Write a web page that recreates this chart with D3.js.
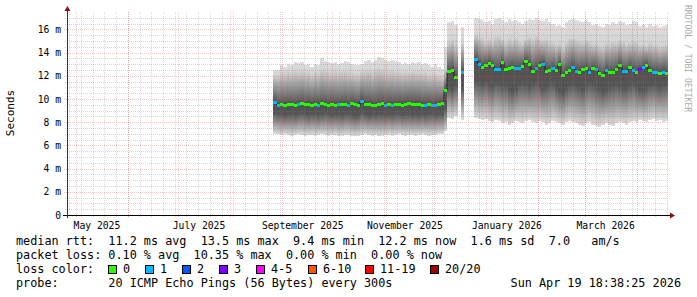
<!DOCTYPE html>
<html>
<head>
<meta charset="utf-8">
<script src="https://cdn.jsdelivr.net/npm/d3@7"></script>
<style>
body { margin:0; background:#fff; }
text { font-family: "DejaVu Sans Mono", monospace; fill:#000; white-space: pre; }
</style>
</head>
<body>
<div class="chart"></div>
<script>
// time range of the graph and the consolidated columns (2 days each)
const startTime = Date.UTC(2025, 3, 25, 15)
const endTime = Date.UTC(2026, 3, 19, 18, 38, 25)
const firstColumn = Date.UTC(2025, 7, 27)
const columnDays = 2

// median rtt per column, ms (null = no data)
const median = [
  9.75,9.50,9.55,9.50,9.55,9.60,9.50,9.58,9.65,9.55,
  9.60,9.50,9.60,9.52,9.62,9.58,9.52,9.60,9.50,9.55,
  9.55,9.60,9.50,9.62,9.55,9.50,9.85,9.58,9.55,9.50,
  9.48,9.55,9.62,9.50,9.58,9.45,9.55,9.60,9.52,9.60,
  9.65,9.55,9.60,9.58,9.50,9.48,9.55,9.45,9.50,9.58,
  9.62,10.8,12.4,12.5,11.9,null,12.3,null,null,null,
  13.42,12.99,12.73,12.93,13.07,12.90,12.56,12.56,13.16,12.56,
  12.64,12.79,12.64,12.70,12.84,13.30,13.02,12.44,12.64,12.93,
  13.02,12.44,12.50,12.64,12.50,13.02,12.07,12.36,12.50,12.79,
  12.44,12.36,12.56,12.64,12.36,12.64,12.56,12.21,12.07,12.50,
  12.36,12.36,12.56,12.93,12.44,12.44,12.73,12.50,12.36,12.56,
  12.79,12.93,12.50,12.36,12.36,12.27,12.36,12.27
]
// lost pings of 20 per column
const loss = [
  1,1,0,0,0,0,0,1,0,0,
  0,0,0,1,0,0,0,0,0,1,
  0,0,1,0,0,0,1,0,0,0,
  0,0,0,1,0,1,0,0,0,0,
  0,0,0,0,0,1,0,1,1,0,
  0,0,0,0,0,null,1,null,null,null,
  1,1,0,0,0,0,1,1,0,0,
  0,0,1,1,0,0,0,0,1,0,
  1,0,0,1,0,0,0,0,0,1,
  1,0,0,0,1,0,1,0,0,1,
  0,0,0,0,1,1,0,1,0,3,
  1,0,0,1,1,0,1,0
]
// smoke: highest ping, end of light upper part, end of dark core, lowest ping (ms)
const smokeMax = [
  12.5,12.5,12.9,12.8,13.0,12.9,13.2,13.1,13.2,12.9,
  13.0,12.8,13.0,12.9,13.5,13.3,13.2,13.1,13.2,13.0,
  13.1,13.3,13.2,13.0,12.9,12.9,13.0,13.3,13.4,13.2,
  13.4,13.6,13.5,13.4,13.3,13.4,13.3,13.2,13.0,13.1,
  13.0,13.2,13.1,13.2,13.0,13.1,12.9,12.8,13.0,12.8,
  12.6,14.5,16.6,16.7,16.4,null,16.2,null,null,null,
  17.0,16.9,16.8,16.6,16.7,16.5,16.9,17.0,16.8,16.6,
  16.9,16.7,16.8,16.6,16.5,16.7,16.9,16.8,17.0,16.8,
  16.7,16.9,16.6,16.5,16.3,16.4,16.2,16.6,16.8,16.9,
  16.8,16.7,16.6,16.8,16.6,16.4,16.5,16.3,16.2,16.5,
  16.4,16.6,16.5,16.7,16.6,16.4,16.5,16.7,16.6,16.3,
  16.4,16.2,16.5,16.3,16.4,16.2,16.3,16.4
]
const smokeHi = [
  12.1,12.1,12.3,12.3,12.4,12.3,12.5,12.4,12.5,12.3,
  12.4,12.2,12.4,12.3,12.6,12.5,12.4,12.4,12.5,12.3,
  12.4,12.5,12.4,12.3,12.2,12.2,12.4,12.5,12.6,12.4,
  12.6,12.7,12.6,12.5,12.5,12.6,12.4,12.4,12.3,12.4,
  12.3,12.5,12.4,12.4,12.3,12.4,12.2,12.2,12.3,12.1,
  12.0,12.5,15.0,15.2,14.8,null,14.9,null,null,null,
  15.6,15.4,15.3,15.0,15.2,15.0,15.4,15.5,15.2,15.0,
  15.3,15.1,15.3,15.0,14.9,15.2,15.4,15.2,15.5,15.2,
  15.1,15.3,15.0,14.9,14.7,14.8,14.6,15.0,15.2,15.3,
  15.2,15.1,15.0,15.2,15.0,14.8,14.9,14.7,14.6,14.9,
  14.8,15.0,14.9,15.1,15.0,14.8,14.9,15.1,15.0,14.7,
  14.8,14.6,14.9,14.7,14.8,14.6,14.7,14.8
]
const smokeLo = [
  8.8,8.7,8.7,8.6,8.7,8.7,8.6,8.7,8.8,8.7,
  8.6,8.7,8.7,8.6,8.7,8.8,8.7,8.6,8.7,8.7,
  8.6,8.7,8.7,8.6,8.5,8.6,8.8,8.7,8.6,8.7,
  8.6,8.7,8.7,8.6,8.7,8.6,8.7,8.7,8.6,8.7,
  8.7,8.6,8.7,8.6,8.7,8.6,8.7,8.7,8.6,8.7,
  8.7,9.2,11.0,10.8,11.2,null,11.0,null,null,null,
  11.6,11.4,11.3,11.5,11.2,11.0,11.4,11.3,11.1,11.2,
  10.8,10.6,10.9,11.3,11.4,11.2,11.0,11.3,11.5,11.2,
  10.9,11.1,11.3,11.4,11.0,10.7,10.5,10.9,11.2,11.3,
  11.1,11.0,10.8,11.2,11.4,11.3,11.0,10.9,10.6,10.8,
  11.0,11.2,11.3,11.1,10.9,11.0,11.2,11.4,11.1,10.8,
  10.7,11.0,11.2,11.3,11.1,11.0,11.2,11.3
]
const smokeMin = [
  7.0,6.95,6.9,6.95,6.9,6.85,6.9,6.95,6.9,6.85,
  6.9,6.9,6.85,6.9,6.95,6.9,6.85,6.9,6.9,6.8,
  6.85,6.9,6.9,6.85,6.8,6.85,6.9,6.95,6.9,6.85,
  6.9,6.8,6.85,6.9,6.9,6.85,6.9,6.95,6.9,6.85,
  6.9,6.9,6.85,6.9,6.95,6.9,6.85,6.9,6.9,6.95,
  6.95,7.2,8.4,8.3,8.5,null,8.2,null,null,null,
  8.4,8.3,8.2,8.3,8.1,8.0,8.2,8.1,7.9,8.0,
  7.8,7.9,8.1,8.0,7.9,8.1,8.2,8.0,7.9,8.1,
  8.0,7.8,7.9,8.1,8.0,7.9,7.8,8.0,8.1,8.0,
  7.9,7.8,7.7,7.9,8.0,7.8,7.7,7.6,7.8,7.9,
  7.8,7.7,7.9,8.0,7.9,7.8,8.0,8.1,8.0,8.2,
  8.1,8.0,8.2,8.3,8.1,8.2,8.0,8.1
]

const yTicks = [0, 2, 4, 6, 8, 10, 12, 14, 16]
const monthLabels = [
  [Date.UTC(2025, 4, 1), 'May 2025'],
  [Date.UTC(2025, 6, 1), 'July 2025'],
  [Date.UTC(2025, 8, 1), 'September 2025'],
  [Date.UTC(2025, 10, 1), 'November 2025'],
  [Date.UTC(2026, 0, 1), 'January 2026'],
  [Date.UTC(2026, 2, 1), 'March 2026']
]
const lossNames = ['0', '1', '2', '3', '4-5', '6-10', '11-19', '20/20']
const lossColors = ['#26ff00', '#00b8ff', '#0059ff', '#7e00ff', '#ff00ff', '#ff5500', '#ff0000', '#a00000']
const rttLine = 'median rtt:  11.2 ms avg  13.5 ms max  9.4 ms min  12.2 ms now  1.6 ms sd  7.0   am/s'
const lossLine = 'packet loss: 0.10 % avg  10.35 % max  0.00 % min  0.00 % now'
const probeLine = 'probe:       20 ICMP Echo Pings (56 Bytes) every 300s'
const dateText = 'Sun Apr 19 18:38:25 2026'

const W = 697, H = 297
const plot = {left: 67, right: 668, top: 12, bottom: 215}

const x = d3.scaleUtc()
    .domain([new Date(startTime), new Date(endTime)])
    .range([plot.left, plot.right])
const y = d3.scaleLinear()
    .domain([0, 17.5])
    .range([plot.bottom, plot.top])
const lossColor = d3.scaleThreshold()
    .domain([1, 2, 3, 4, 6, 11, 20])
    .range(lossColors)

const svg = d3.select('.chart')
    .append('svg')
    .attr('width', W)
    .attr('height', H)
svg.append('rect').attr('width', W).attr('height', H).attr('fill', '#fff')

// column table
const day = 86400000
const cols = median.map((m, i) => {
    const t0 = firstColumn + i * columnDays * day
    return {
        i: i,
        x0: Math.round(x(new Date(t0))),
        x1: Math.min(Math.round(x(new Date(t0 + columnDays * day))), plot.right),
        med: m, loss: loss[i],
        max: smokeMax[i], hi: smokeHi[i], lo: smokeLo[i], min: smokeMin[i]
    }
})
const have = cols.filter(d => d.med != null)

// smoke gradients, one per column
const defs = svg.append('defs')
have.forEach(d => {
    const top = y(d.max), bot = y(d.min), h = bot - top
    const off = v => ((y(v) - top) / h)
    const g = defs.append('linearGradient')
        .attr('id', 'smoke' + d.i)
        .attr('x1', 0).attr('x2', 0).attr('y1', 0).attr('y2', 1)
    const stops = [
        [0, '#dddddd'],
        [off(d.hi), '#d4d4d4'],
        [off(d.med), '#505050'],
        [off(d.lo), '#555555'],
        [1, '#dadada']
    ]
    g.selectAll('stop').data(stops).enter().append('stop')
        .attr('offset', s => s[0])
        .attr('stop-color', s => s[1])
})

svg.append('g')
    .selectAll('rect')
    .data(have)
    .enter()
    .append('rect')
    .attr('x', d => d.x0)
    .attr('width', d => d.x1 - d.x0)
    .attr('y', d => y(d.max))
    .attr('height', d => y(d.min) - y(d.max))
    .attr('fill', d => 'url(#smoke' + d.i + ')')
    .attr('shape-rendering', 'crispEdges')

// median step line
const pts = []
cols.forEach((d, k) => {
    if (d.med == null) { pts.push({x: d.x0, v: null}); return }
    pts.push({x: d.x0, v: d.med})
    const next = cols[k + 1]
    if (!next || next.med == null) pts.push({x: d.x1, v: d.med})
})
svg.append('path')
    .attr('d', d3.line().defined(p => p.v != null).x(p => p.x).y(p => Math.round(y(p.v)) + 0.5).curve(d3.curveStepAfter)(pts))
    .attr('fill', 'none')
    .attr('stroke', '#202020')
    .attr('stroke-width', 1)

svg.append('g')
    .selectAll('rect')
    .data(have)
    .enter()
    .append('rect')
    .attr('x', d => d.x0)
    .attr('width', d => d.x1 - d.x0)
    .attr('y', d => Math.round(y(d.med)) - 1)
    .attr('height', 3)
    .attr('fill', d => lossColor(d.loss))
    .attr('shape-rendering', 'crispEdges')

// grid (drawn over the graph like rrdtool does)
const minorCol = 'rgba(128,128,128,0.32)'
const majorCol = 'rgba(224,80,80,0.32)'
const grid = svg.append('g').attr('shape-rendering', 'crispEdges').attr('stroke-dasharray', '1,1')
const minorY = d3.range(0.5, 17.5, 0.5).filter(v => v % 2 !== 0)
grid.selectAll('.hmin').data(minorY).enter().append('line')
    .attr('x1', plot.left - 2).attr('x2', plot.right)
    .attr('y1', d => Math.round(y(d)) + 0.5).attr('y2', d => Math.round(y(d)) + 0.5)
    .attr('stroke', minorCol)
const weeks = d3.utcSunday.range(new Date(startTime), new Date(endTime))
grid.selectAll('.vmin').data(weeks).enter().append('line')
    .attr('x1', d => Math.round(x(d)) + 0.5).attr('x2', d => Math.round(x(d)) + 0.5)
    .attr('y1', plot.top).attr('y2', plot.bottom + 2)
    .attr('stroke', minorCol)
grid.selectAll('.hmaj').data(yTicks.slice(1)).enter().append('line')
    .attr('x1', plot.left - 3).attr('x2', plot.right)
    .attr('y1', d => Math.round(y(d)) + 0.5).attr('y2', d => Math.round(y(d)) + 0.5)
    .attr('stroke', majorCol)
const months = d3.utcMonth.range(new Date(startTime), new Date(endTime))
grid.selectAll('.vmaj').data(months).enter().append('line')
    .attr('x1', d => Math.round(x(d)) + 0.5).attr('x2', d => Math.round(x(d)) + 0.5)
    .attr('y1', plot.top).attr('y2', plot.bottom + 3)
    .attr('stroke', majorCol)

// axes
svg.append('line')
    .attr('x1', plot.left - 4).attr('x2', plot.right + 3)
    .attr('y1', plot.bottom + 0.5).attr('y2', plot.bottom + 0.5)
    .attr('stroke', '#000')
svg.append('line')
    .attr('x1', plot.left + 0.5).attr('x2', plot.left + 0.5)
    .attr('y1', plot.bottom + 3).attr('y2', plot.top - 3)
    .attr('stroke', '#333')
svg.append('path')
    .attr('d', `M${plot.right + 2},${plot.bottom - 2.5}L${plot.right + 7},${plot.bottom + 0.5}L${plot.right + 2},${plot.bottom + 3.5}Z`)
    .attr('fill', '#8b1010')
svg.append('path')
    .attr('d', `M${plot.left - 2.5},${plot.top - 1}L${plot.left + 0.5},${plot.top - 6}L${plot.left + 3.5},${plot.top - 1}Z`)
    .attr('fill', '#8b1010')

// tick labels
svg.append('g')
    .selectAll('text')
    .data(yTicks)
    .enter()
    .append('text')
    .attr('x', 61)
    .attr('y', d => y(d) + 3.5)
    .attr('text-anchor', 'end')
    .style('font-size', '9.7px')
    .text(d => d === 0 ? '0' : d + ' m')

svg.append('g')
    .selectAll('text')
    .data(monthLabels)
    .enter()
    .append('text')
    .attr('x', d => x(new Date(d[0] + 12.5 * day)))
    .attr('y', 228.5)
    .attr('text-anchor', 'middle')
    .style('font-size', '9.7px')
    .text(d => d[1])

svg.append('text')
    .attr('transform', 'translate(14,113) rotate(-90)')
    .attr('text-anchor', 'middle')
    .style('font-size', '11px')
    .text('Seconds')

svg.append('text')
    .attr('transform', 'translate(685,5) rotate(90)')
    .style('font-size', '8.1px')
    .style('fill', '#aaa')
    .text('RRDTOOL / TOBI OETIKER')

// legend
const leg = svg.append('g').style('font-size', '11.8px')
leg.append('text').attr('x', 16).attr('y', 245).text(rttLine)
leg.append('text').attr('x', 16).attr('y', 259).text(lossLine)
leg.append('text').attr('x', 16).attr('y', 273).text('loss color:')
const boxX = [108, 145, 182, 219, 256, 308, 365, 430]
lossNames.forEach((n, i) => {
    leg.append('rect')
        .attr('x', boxX[i] + 0.5).attr('y', 265.5)
        .attr('width', 8).attr('height', 8)
        .attr('fill', lossColors[i])
        .attr('stroke', '#000')
    leg.append('text').attr('x', boxX[i] + 15).attr('y', 273).text(n)
})
leg.append('text').attr('x', 16).attr('y', 287).text(probeLine)
leg.append('text').attr('x', 681).attr('y', 287).attr('text-anchor', 'end').text(dateText)
</script>
</body>
</html>
